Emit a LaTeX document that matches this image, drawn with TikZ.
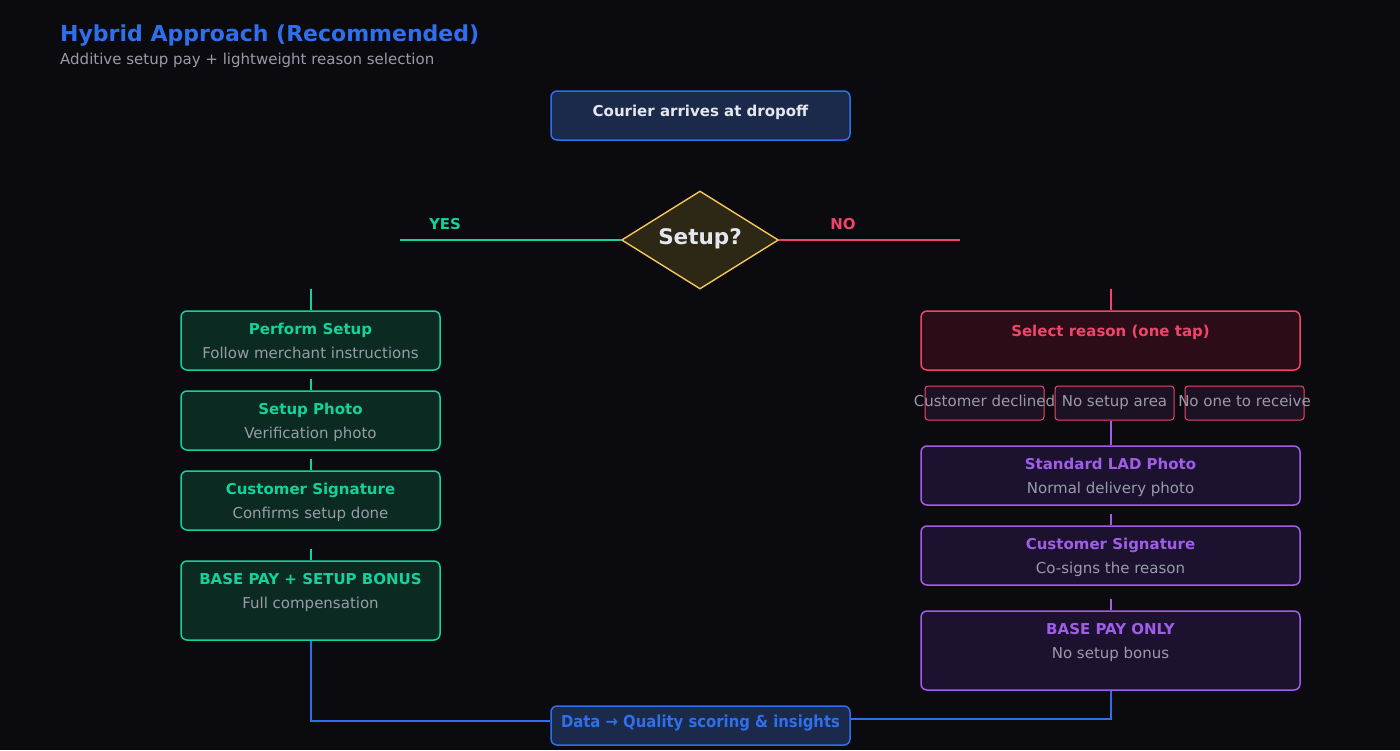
\documentclass[tikz,border=0pt]{standalone}
\usepackage{fontspec}
\setmainfont{DejaVu Sans}
\newfontfamily\condensedfont{DejaVu Sans Condensed}
\usetikzlibrary{shapes.geometric,positioning}
\definecolor{bgdark}{HTML}{0B0A0F}
\definecolor{accblue}{HTML}{2F6FEB}
\definecolor{fillblue}{HTML}{1B2A4B}
\definecolor{accgreen}{HTML}{14D29B}
\definecolor{fillgreen}{HTML}{0B2A22}
\definecolor{accred}{HTML}{F0456B}
\definecolor{fillred}{HTML}{2C0C17}
\definecolor{accpurple}{HTML}{A05EE8}
\definecolor{fillpurple}{HTML}{1C1230}
\definecolor{accamber}{HTML}{F7C65A}
\definecolor{fillamber}{HTML}{2D2815}
\definecolor{txtgray}{HTML}{9A9AAB}
\definecolor{txtwhite}{HTML}{E4E6F0}
\definecolor{fillreason}{HTML}{1D1224}
\tikzset{
  box/.style={draw,rounded corners=6pt,line width=1.5pt,inner sep=0pt},
  greenbox/.style={box,draw=accgreen,fill=fillgreen,minimum width=259pt},
  purplebox/.style={box,draw=accpurple,fill=fillpurple,minimum width=379pt},
  reasonbox/.style={box,draw=accred,fill=fillreason,rounded corners=3pt,line width=1pt,minimum width=119pt,minimum height=34pt},
  ttl/.style={inner sep=0pt,anchor=base,yshift=-5.7pt,font=\bfseries\fontsize{15}{18}\selectfont},
  sub/.style={inner sep=0pt,anchor=base,yshift=-5.7pt,text=txtgray,font=\fontsize{15}{18}\selectfont},
  link/.style={line width=2pt},
}
\begin{document}
\begin{tikzpicture}[x=1pt,y=-1pt]
\fill[bgdark](0,0)rectangle(1400,750);
\useasboundingbox(0,0)rectangle(1400,750);
% heading
\node[ttl,anchor=base west,yshift=-2.7pt,text=accblue,font=\bfseries\fontsize{22}{26}\selectfont](title) at (60,33){Hybrid Approach (Recommended)};
\node[sub,anchor=base west](subtitle) at (60,59){Additive setup pay + lightweight reason selection};
% start and decision
\node[box,draw=accblue,fill=fillblue,minimum width=299pt,minimum height=49pt](arrive) at (700.5,115.5){};
\node[ttl,text=txtwhite](arrive-t) at (700.5,111){Courier arrives at dropoff};
\node[diamond,draw=accamber,fill=fillamber,line width=1.4pt,minimum width=157pt,minimum height=98pt,inner sep=0pt](decide) at (700,240){};
\node[ttl,yshift=-2.5pt,text=txtwhite,font=\bfseries\fontsize{21.5}{24}\selectfont](decide-t) at (700,236){Setup?};
\coordinate(yesend) at (400,240);
\coordinate(noend) at (960,240);
\draw[link,accgreen](decide.west)--(yesend);
\draw[link,accred](decide.east)--(noend);
\node[ttl,text=accgreen](yes) at (445,224){YES};
\node[ttl,text=accred](no) at (843,224){NO};
% yes branch
\node[greenbox,minimum height=59pt](perform) at (310.5,340.5){};
\node[ttl,text=accgreen](perform-t) at (310.5,329){Perform Setup};
\node[sub](perform-s) at (310.5,353){Follow merchant instructions};
\node[greenbox,minimum height=59pt](photo) at (310.5,420.5){};
\node[ttl,text=accgreen](photo-t) at (310.5,409){Setup Photo};
\node[sub](photo-s) at (310.5,433){Verification photo};
\node[greenbox,minimum height=59pt](signyes) at (310.5,500.5){};
\node[ttl,text=accgreen](signyes-t) at (310.5,489){Customer Signature};
\node[sub](signyes-s) at (310.5,513){Confirms setup done};
\node[greenbox,minimum height=79pt](paybonus) at (310.5,600.5){};
\node[ttl,text=accgreen](paybonus-t) at (310.5,579){BASE PAY + SETUP BONUS};
\node[sub](paybonus-s) at (310.5,603){Full compensation};
\foreach \n/\l in {perform/21,photo/11,signyes/11,paybonus/11}{\draw[link,accgreen](\n.north)--++(0,-\l);}
% no branch
\node[box,draw=accred,fill=fillred,minimum width=379pt,minimum height=59pt](reason) at (1110.5,340.5){};
\node[ttl,text=accred](reason-t) at (1110.5,331){Select reason (one tap)};
\draw[link,accred](reason.north)--++(0,-21);
\foreach \n/\x/\t in {declined/984.5/Customer declined,noarea/1114.5/No setup area,noone/1244.5/No one to receive}{
  \node[reasonbox](\n) at (\x,403){};
  \node[sub](\n-t) at (\x,401){\t};
}
\node[purplebox,minimum height=59pt](lad) at (1110.5,475.5){};
\node[ttl,text=accpurple](lad-t) at (1110.5,464){Standard LAD Photo};
\node[sub](lad-s) at (1110.5,488){Normal delivery photo};
\node[purplebox,minimum height=59pt](signno) at (1110.5,555.5){};
\node[ttl,text=accpurple](signno-t) at (1110.5,544){Customer Signature};
\node[sub](signno-s) at (1110.5,568){Co-signs the reason};
\node[purplebox,minimum height=79pt](payonly) at (1110.5,650.5){};
\node[ttl,text=accpurple](payonly-t) at (1110.5,629){BASE PAY ONLY};
\node[sub](payonly-s) at (1110.5,653){No setup bonus};
\draw[link,accpurple](lad.north)--(lad.north|-noarea.south);
\draw[link,accpurple](signno.north)--++(0,-11);
\draw[link,accpurple](payonly.north)--++(0,-11);
% data sink
\node[box,draw=accblue,fill=fillblue,minimum width=299pt,minimum height=39pt](data) at (700.5,725.5){};
\node[ttl,yshift=-0.6pt,text=accblue,font=\condensedfont\bfseries\fontsize{16.5}{19}\selectfont](data-t) at (700.5,721){Data → Quality scoring \& insights};
\draw[link,accblue](paybonus.south)|-([yshift=4.5pt]data.west);
\draw[link,accblue](payonly.south)|-([yshift=6.5pt]data.east);
\end{tikzpicture}
\end{document}
